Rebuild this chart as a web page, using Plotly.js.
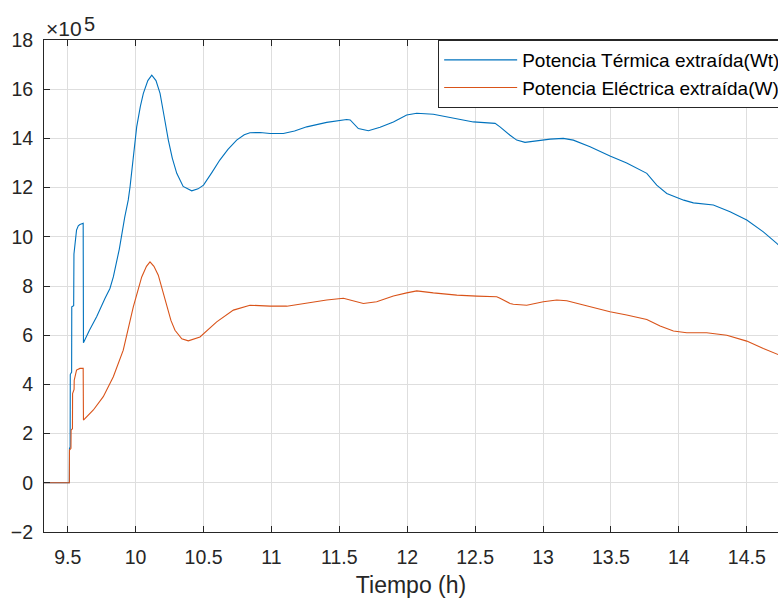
<!DOCTYPE html>
<html>
<head>
<meta charset="utf-8">
<script src="https://cdn.plot.ly/plotly-3.0.1.min.js"></script>
<style>
  html, body { margin: 0; padding: 0; background: #fff; overflow: hidden; }
  #chart { width: 778px; height: 599px; }
</style>
</head>
<body>
<div id="chart"></div>
<script>
// Time axis (hours) and extracted power, in units of 1e5 W
const tTermica = [
  9.30, 9.512, 9.513, 9.518, 9.519, 9.529, 9.530, 9.544, 9.546, 9.555, 9.565, 9.578, 9.59, 9.614,
  9.616, 9.66, 9.713, 9.775, 9.811, 9.836, 9.88, 9.92, 9.946, 9.959, 9.985, 10.008, 10.035, 10.057,
  10.09, 10.119, 10.15, 10.18, 10.21, 10.241, 10.27, 10.303, 10.35, 10.413, 10.46, 10.5, 10.56, 10.62,
  10.68, 10.744, 10.80, 10.842, 10.916, 10.99, 11.088, 11.17, 11.26, 11.407, 11.554, 11.58, 11.64,
  11.714, 11.8, 11.898, 11.996, 12.07, 12.192, 12.34, 12.487, 12.647, 12.683, 12.757, 12.806, 12.867,
  12.954, 13.052, 13.149, 13.223, 13.346, 13.493, 13.616, 13.764, 13.837, 13.911, 14.036, 14.107,
  14.254, 14.377, 14.5, 14.622, 14.721, 14.75
];
const potTermica = [
  0, 0, 1.4, 1.45, 4.4, 4.5, 7.15, 7.2, 9.3, 9.8, 10.27, 10.45, 10.5, 10.55,
  5.69, 6.2, 6.75, 7.5, 7.9, 8.37, 9.5, 10.8, 11.5, 12.03, 13.3, 14.47, 15.3, 15.83,
  16.35, 16.57, 16.35, 15.83, 14.9, 13.93, 13.2, 12.58, 12.05, 11.87, 11.95, 12.1, 12.6, 13.12,
  13.55, 13.93, 14.15, 14.23, 14.24, 14.2, 14.2, 14.3, 14.47, 14.65, 14.77, 14.75, 14.4,
  14.31, 14.45, 14.67, 14.95, 15.02, 14.98, 14.81, 14.67, 14.61, 14.47, 14.13, 13.93, 13.84,
  13.9, 13.97, 14.0, 13.93, 13.66, 13.28, 13.0, 12.58, 12.1, 11.76, 11.49, 11.38,
  11.29, 11.02, 10.68, 10.2, 9.73, 9.6
];

const tElectrica = [
  9.30, 9.512, 9.513, 9.524, 9.525, 9.535, 9.536, 9.547, 9.548, 9.565, 9.59, 9.614,
  9.616, 9.689, 9.762, 9.836, 9.909, 9.95, 9.983, 10.045, 10.08, 10.106, 10.135, 10.167,
  10.2, 10.229, 10.26, 10.29, 10.34, 10.388, 10.474, 10.597, 10.72, 10.842, 10.99, 11.113,
  11.26, 11.407, 11.53, 11.677, 11.775, 11.898, 11.996, 12.07, 12.192, 12.365, 12.512, 12.659,
  12.683, 12.757, 12.781, 12.88, 13.002, 13.101, 13.175, 13.297, 13.493, 13.616, 13.764, 13.862,
  13.96, 14.058, 14.205, 14.353, 14.5, 14.622, 14.721, 14.75
];
const potElectrica = [
  0, 0, 1.33, 1.4, 2.14, 2.2, 3.63, 3.8, 4.17, 4.58, 4.65, 4.65,
  2.55, 2.96, 3.5, 4.31, 5.39, 6.3, 7.15, 8.37, 8.8, 8.98, 8.8, 8.44,
  7.8, 7.15, 6.6, 6.2, 5.85, 5.77, 5.93, 6.54, 7.02, 7.22, 7.18, 7.18,
  7.32, 7.43, 7.5, 7.29, 7.36, 7.59, 7.72, 7.8, 7.72, 7.63, 7.59, 7.56,
  7.5, 7.29, 7.26, 7.22, 7.36, 7.43, 7.4, 7.22, 6.95, 6.82, 6.64, 6.37,
  6.17, 6.1, 6.1, 6.0, 5.76, 5.46, 5.23, 5.17
];

const seriesNames = ['Potencia Térmica extraída(Wt)', 'Potencia Eléctrica extraída(W)'];
const xTicks = [9.5, 10, 10.5, 11, 11.5, 12, 12.5, 13, 13.5, 14, 14.5];
const xTickText = ['9.5', '10', '10.5', '11', '11.5', '12', '12.5', '13', '13.5', '14', '14.5'];
const yTicks = [-2, 0, 2, 4, 6, 8, 10, 12, 14, 16, 18];

const FONT = 'Liberation Sans, Arial, Helvetica, sans-serif';
const INK = '#262626';
const GRID = '#dedede';

const traces = [
  {
    x: tTermica, y: potTermica, name: seriesNames[0],
    type: 'scatter', mode: 'lines',
    line: { color: '#0072BD', width: 1.1 }
  },
  {
    x: tElectrica, y: potElectrica, name: seriesNames[1],
    type: 'scatter', mode: 'lines',
    line: { color: '#D95319', width: 1.1 }
  }
];

const layout = {
  width: 778, height: 599,
  margin: { l: 44, r: 0, t: 40, b: 67, autoexpand: false },
  paper_bgcolor: '#ffffff', plot_bgcolor: '#ffffff',
  font: { family: FONT, size: 19, color: INK },
  showlegend: true,
  legend: {
    x: 0.537, y: 1.0, xanchor: 'left', yanchor: 'top',
    bgcolor: '#ffffff', bordercolor: INK, borderwidth: 1,
    font: { family: FONT, size: 19, color: '#000000' },
    itemwidth: 73, tracegroupgap: 0
  },
  xaxis: {
    range: [9.3255, 14.73],
    tickvals: xTicks, ticktext: xTickText,
    ticks: 'inside', ticklen: 6, tickcolor: INK, tickwidth: 1,
    showline: true, linecolor: INK, linewidth: 1, mirror: 'ticks',
    showgrid: true, gridcolor: GRID, gridwidth: 1,
    zeroline: false,
    ticklabelstandoff: 8,
    tickfont: { family: FONT, size: 19.5, color: INK },
    title: { text: 'Tiempo (h)', font: { family: FONT, size: 23, color: INK }, standoff: 9 }
  },
  yaxis: {
    range: [-2, 18],
    tickvals: yTicks,
    ticks: 'inside', ticklen: 6, tickcolor: INK, tickwidth: 1,
    showline: true, linecolor: INK, linewidth: 1, mirror: false,
    showgrid: true, gridcolor: GRID, gridwidth: 1,
    zeroline: false,
    ticklabelstandoff: 6,
    tickfont: { family: FONT, size: 19.5, color: INK }
  },
  // axis multiplier label: ×10 with a raised exponent
  annotations: [
    {
      xref: 'paper', yref: 'paper', x: 0, y: 1.0234,
      xanchor: 'left', yanchor: 'middle',
      text: '×10', showarrow: false,
      font: { family: FONT, size: 21, color: INK }
    },
    {
      xref: 'paper', yref: 'paper', x: 0, y: 1.033,
      xanchor: 'left', yanchor: 'middle', xshift: 38,
      text: '5', showarrow: false,
      font: { family: FONT, size: 20, color: INK }
    }
  ]
};

Plotly.newPlot('chart', traces, layout, { displayModeBar: false, staticPlot: true });
</script>
</body>
</html>
